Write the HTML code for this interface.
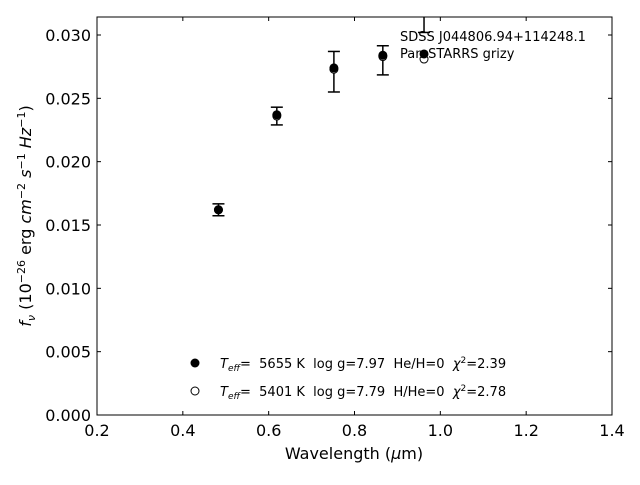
<!DOCTYPE html>
<html><head><meta charset="utf-8"><style>
body{margin:0;background:#fff;}
svg{font-family:"DejaVu Sans","Liberation Sans",sans-serif;}
text{white-space:pre;}
</style></head><body>
<svg id="chart" width="640" height="480" xmlns="http://www.w3.org/2000/svg">
<defs><clipPath id="cp"><rect x="97" y="17" width="515" height="398"/></clipPath></defs>
<g id="ticks"></g>
<g id="marks" clip-path="url(#cp)"></g>
<rect x="97" y="17" width="515" height="398" fill="none" stroke="#000" stroke-width="1"/>
<text x="400" y="41" font-size="13">SDSS J044806.94+114248.1</text>
<text x="400" y="58" font-size="13">Pan-STARRS grizy</text>
<text x="354" y="459" font-size="16" text-anchor="middle">Wavelength (<tspan font-style="italic">μ</tspan>m)</text>
<text transform="translate(31,216) rotate(-90)" font-size="16" text-anchor="middle"><tspan font-style="italic">f<tspan font-size="11" dy="4">ν</tspan></tspan><tspan dy="-4"> (10</tspan><tspan font-size="11" dy="-6">−26</tspan><tspan dy="6"> erg </tspan><tspan font-style="italic">cm</tspan><tspan font-size="11" dy="-6">−2</tspan><tspan dy="6"> </tspan><tspan font-style="italic">s</tspan><tspan font-size="11" dy="-6">−1</tspan><tspan dy="6"> </tspan><tspan font-style="italic">Hz</tspan><tspan font-size="11" dy="-6">−1</tspan><tspan dy="6">)</tspan></text>
<g>
<circle cx="195" cy="363" r="4.5" fill="#000"/>
<text x="220" y="368" font-size="13"><tspan font-style="italic">T<tspan font-size="9" dy="3">eff</tspan></tspan><tspan dy="-3">=  5655 K  log g=7.97  He/H=0  </tspan><tspan font-style="italic">χ</tspan><tspan font-size="9" dy="-5">2</tspan><tspan dy="5">=2.39</tspan></text>
<circle cx="195" cy="391" r="4" fill="#fff" stroke="#000" stroke-width="1"/>
<text x="220" y="396" font-size="13"><tspan font-style="italic">T<tspan font-size="9" dy="3">eff</tspan></tspan><tspan dy="-3">=  5401 K  log g=7.79  H/He=0  </tspan><tspan font-style="italic">χ</tspan><tspan font-size="9" dy="-5">2</tspan><tspan dy="5">=2.78</tspan></text>
</g>
</svg>
<script>
const wavelengths=[0.483,0.619,0.752,0.866,0.962];
const observedFlux=[0.0162,0.0237,0.0274,0.0284,0.0285];
const errorCenters=[0.0162,0.0236,0.0271,0.0280,0.0335];
const fluxErrors=[0.00047,0.0007,0.0016,0.00115,0.0033];
const modelFlux=[0.0162,0.0236,0.0273,0.0283,0.0281];
const xTicks=[0.2,0.4,0.6,0.8,1.0,1.2,1.4];
const xTickLabels=["0.2","0.4","0.6","0.8","1.0","1.2","1.4"];
const yTicks=[0,0.005,0.01,0.015,0.02,0.025,0.03];
const yTickLabels=["0.000","0.005","0.010","0.015","0.020","0.025","0.030"];
const L=97,R=612,T=17,B=415,xmin=0.2,xmax=1.4,ymin=0,ymax=0.03142;
const sx=v=>L+(v-xmin)/(xmax-xmin)*(R-L);
const sy=v=>B-(v-ymin)/(ymax-ymin)*(B-T);
const NS="http://www.w3.org/2000/svg";
function mk(tag,attrs,parent){const e=document.createElementNS(NS,tag);for(const k in attrs)e.setAttribute(k,attrs[k]);parent.appendChild(e);return e;}
const tg=document.getElementById('ticks'),g=document.getElementById('marks');
xTicks.forEach((v,i)=>{const x=sx(v);
 let t=mk('line',{x1:x,x2:x,y1:B,y2:B-4,stroke:'#000'},tg);
 
 
 t=mk('line',{x1:x,x2:x,y1:T,y2:T+4,stroke:'#000'},tg);
 
 
 const l=mk('text',{x:x,y:B+21,'font-size':16,'text-anchor':'middle'},tg);l.textContent=xTickLabels[i];
 
 
});
yTicks.forEach((v,i)=>{const y=sy(v);
 let t=mk('line',{x1:L,x2:L+4,y1:y,y2:y,stroke:'#000'},tg);
 
 
 t=mk('line',{x1:R,x2:R-4,y1:y,y2:y,stroke:'#000'},tg);
 
 
 const l=mk('text',{x:L-6,y:y+6,'font-size':16,'text-anchor':'end'},tg);l.textContent=yTickLabels[i];
 
 
});
wavelengths.forEach((w,i)=>{const x=sx(w);
 const top=sy(errorCenters[i]+fluxErrors[i]),bot=sy(errorCenters[i]-fluxErrors[i]);
 const eb=mk('g',{stroke:'#000','stroke-width':1.5},g);
 
 
 mk('line',{x1:x,x2:x,y1:top,y2:bot},eb);
 mk('line',{x1:x-6,x2:x+6,y1:top,y2:top},eb);
 mk('line',{x1:x-6,x2:x+6,y1:bot,y2:bot},eb);
 const m=mk('circle',{cx:x,cy:sy(modelFlux[i]),r:4,fill:'#fff',stroke:'#000','stroke-width':1},g);
 
 
 const o=mk('circle',{cx:x,cy:sy(observedFlux[i]),r:4.5,fill:'#000'},g);
 
 
});
</script>
</body></html>
